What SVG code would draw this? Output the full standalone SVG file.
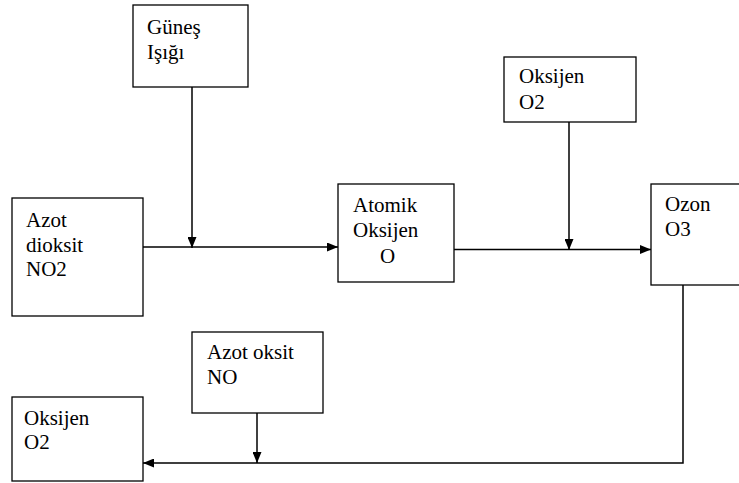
<svg xmlns="http://www.w3.org/2000/svg" width="739" height="483" viewBox="0 0 739 483">
<style>
.box{fill:#fff;stroke:#000;stroke-width:1.3}
text{font-family:'Liberation Serif','DejaVu Serif',serif;font-size:21px;fill:#000}
.c{fill:none;stroke:#000;stroke-width:1.5}
</style>
<defs>
<marker id="ah" markerWidth="11" markerHeight="9" refX="11" refY="4.5" orient="auto" markerUnits="userSpaceOnUse">
<path d="M0,0 L11,4.5 L0,9 z" fill="#000"/>
</marker>
</defs>
<rect width="739" height="483" fill="#fff"/>
<g id="connectors">
<line class="c" x1="192" y1="87" x2="192" y2="248" marker-end="url(#ah)"/>
<line class="c" x1="143" y1="247" x2="338" y2="247" marker-end="url(#ah)"/>
<line class="c" x1="454" y1="249.5" x2="651" y2="249.5" marker-end="url(#ah)"/>
<line class="c" x1="569" y1="122" x2="569" y2="250" marker-end="url(#ah)"/>
<polyline class="c" points="683,283 683,463 143,463" marker-end="url(#ah)"/>
<line class="c" x1="257" y1="413" x2="257" y2="463" marker-end="url(#ah)"/>
</g>
<g id="gunes">
<rect class="box" x="133" y="5" width="115" height="82"/>
<text x="147" y="34" font-family="Liberation Serif, serif">Güneş</text>
<text x="147" y="59" font-family="Liberation Serif, serif">Işığı</text>
</g>
<g id="azot-dioksit">
<rect class="box" x="12" y="198" width="131" height="118"/>
<text x="26" y="227">Azot</text>
<text x="26" y="252">dioksit</text>
<text x="26" y="276">NO2</text>
</g>
<g id="atomik-oksijen">
<rect class="box" x="338" y="184" width="116" height="98"/>
<text x="353" y="212">Atomik</text>
<text x="353" y="237">Oksijen</text>
<text x="380" y="263">O</text>
</g>
<g id="oksijen-top">
<rect class="box" x="504" y="57" width="132" height="65"/>
<text x="519" y="83">Oksijen</text>
<text x="519" y="109">O2</text>
</g>
<g id="ozon">
<rect class="box" x="651" y="184" width="100" height="101"/>
<text x="665" y="211">Ozon</text>
<text x="665" y="236">O3</text>
</g>
<g id="azot-oksit">
<rect class="box" x="192" y="332" width="131" height="81"/>
<text x="207" y="359">Azot oksit</text>
<text x="207" y="384">NO</text>
</g>
<g id="oksijen-bottom">
<rect class="box" x="12" y="397" width="131" height="84"/>
<text x="24" y="425">Oksijen</text>
<text x="24" y="449">O2</text>
</g>
</svg>
